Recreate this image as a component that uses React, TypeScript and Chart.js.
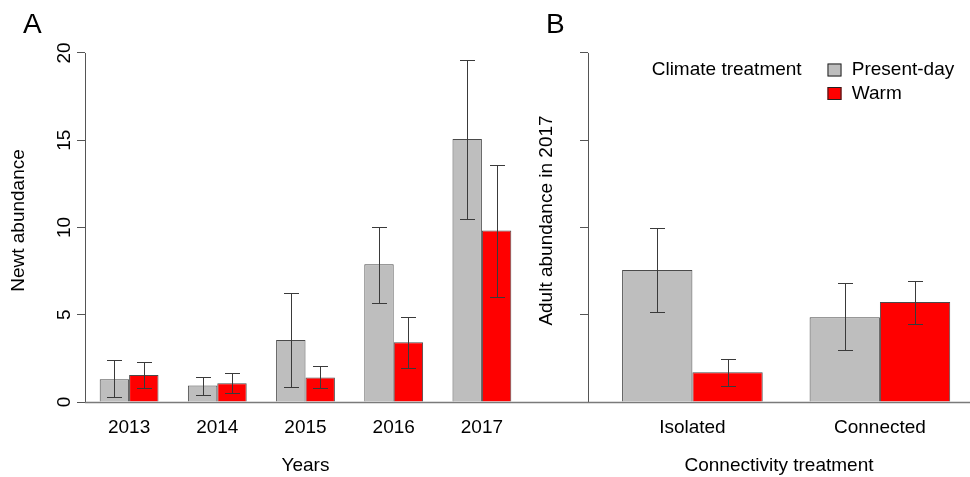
import React, { useEffect, useRef } from 'react';
import { Chart, registerables } from 'chart.js';

Chart.register(...registerables);

// ---------- data ----------
const years = ['2013', '2014', '2015', '2016', '2017'];
const presentDayA = [1.3, 0.94, 3.55, 7.9, 15.07];
const presentDayALow = [0.27, 0.4, 0.88, 5.69, 10.5];
const presentDayAHigh = [2.4, 1.45, 6.26, 10.05, 19.6];
const warmA = [1.55, 1.07, 1.4, 3.42, 9.82];
const warmALow = [0.78, 0.5, 0.78, 1.97, 6.03];
const warmAHigh = [2.31, 1.64, 2.06, 4.85, 13.58];

const connectivity = ['Isolated', 'Connected'];
const presentDayB = [7.56, 4.85];
const presentDayBLow = [5.17, 2.98];
const presentDayBHigh = [9.99, 6.8];
const warmB = [1.7, 5.73];
const warmBLow = [0.94, 4.47];
const warmBHigh = [2.46, 6.95];

const yTicks = [0, 5, 10, 15, 20];
const seriesNames = ['Present-day', 'Warm'];
const legendTitle = 'Climate treatment';

// ---------- styles ----------
const FONT = "'Liberation Sans', Arial, sans-serif";
const GREY = '#BEBEBE';
const RED = '#FF0000';
const EDGE = '#4a4a4a';
const AXIS = '#555555';
const ERR = '#3a3a3a';
const Y_MAX = 20.8;
const B_X_MIN = 0.4432;
const B_X_MAX = 2.4805;

Chart.defaults.font.family = FONT;
Chart.defaults.font.size = 19;
Chart.defaults.color = '#000';

const errorBarPlugin = {
  id: 'errorBars',
  afterDatasetsDraw(chart: any, _args: any, opts: any) {
    const { ctx } = chart;
    const yScale = chart.scales.y;
    ctx.save();
    ctx.strokeStyle = opts.color;
    ctx.lineWidth = 1;
    chart.data.datasets.forEach((ds: any, d: number) => {
      const meta = chart.getDatasetMeta(d);
      meta.data.forEach((el: any, i: number) => {
        const x = Math.round(el.x) + 0.5;
        const yl = Math.round(yScale.getPixelForValue(ds.errLow[i])) + 0.5;
        const yh = Math.round(yScale.getPixelForValue(ds.errHigh[i])) + 0.5;
        ctx.beginPath();
        ctx.moveTo(x, yl);
        ctx.lineTo(x, yh);
        ctx.moveTo(x - opts.cap, yl);
        ctx.lineTo(x + opts.cap, yl);
        ctx.moveTo(x - opts.cap, yh);
        ctx.lineTo(x + opts.cap, yh);
        ctx.stroke();
      });
    });
    ctx.restore();
  },
};

const axisLinePlugin = {
  id: 'axisLines',
  afterDatasetsDraw(chart: any, _args: any, opts: any) {
    const { ctx, chartArea } = chart;
    const y = chart.scales.y;
    const ticks = y.ticks;
    const x0 = Math.round(chartArea.left) + 0.5;
    ctx.save();
    ctx.strokeStyle = opts.axisColor;
    ctx.lineWidth = 1;
    ctx.beginPath();
    ctx.moveTo(x0, y.getPixelForValue(ticks[0].value));
    ctx.lineTo(x0, y.getPixelForValue(ticks[ticks.length - 1].value));
    ctx.stroke();
    const yb = Math.round(y.getPixelForValue(0)) + 0.5;
    ctx.strokeStyle = opts.baseColor;
    ctx.lineWidth = 1.5;
    ctx.beginPath();
    ctx.moveTo(opts.fromAxis ? chartArea.left : 0, yb);
    ctx.lineTo(chart.width, yb);
    ctx.stroke();
    ctx.restore();
  },
};

const panelLabelPlugin = {
  id: 'panelLabel',
  afterDraw(chart: any, _args: any, opts: any) {
    const { ctx } = chart;
    ctx.save();
    ctx.font = `28px ${FONT}`;
    ctx.fillStyle = '#000';
    ctx.textBaseline = 'alphabetic';
    ctx.textAlign = 'left';
    ctx.fillText(opts.text, opts.x, opts.y);
    ctx.restore();
  },
};

const climateLegendPlugin = {
  id: 'climateLegend',
  afterDraw(chart: any, _args: any, opts: any) {
    const { ctx } = chart;
    ctx.save();
    ctx.font = `19px ${FONT}`;
    ctx.textBaseline = 'middle';
    ctx.textAlign = 'left';
    ctx.fillStyle = '#000';
    ctx.fillText(opts.title, opts.titleX, opts.y);
    chart.data.datasets.forEach((ds: any, i: number) => {
      const yc = opts.y + i * opts.rowHeight;
      ctx.fillStyle = ds.backgroundColor;
      ctx.fillRect(opts.boxX, yc - 6.5, 14, 13);
      ctx.strokeStyle = '#222';
      ctx.lineWidth = 1;
      ctx.strokeRect(opts.boxX + 0.5, yc - 6, 13, 12);
      ctx.fillStyle = '#000';
      ctx.fillText(ds.label, opts.textX, yc);
    });
    ctx.restore();
  },
};

const yTickBuilder = (axis: any) => {
  axis.ticks = yTicks.map((v) => ({ value: v }));
};

function makeConfigA(): any {
  return {
    type: 'bar',
    data: {
      labels: years,
      datasets: [
        {
          label: seriesNames[0],
          data: presentDayA,
          errLow: presentDayALow,
          errHigh: presentDayAHigh,
          backgroundColor: GREY,
          borderColor: EDGE,
          borderWidth: 1,
        },
        {
          label: seriesNames[1],
          data: warmA,
          errLow: warmALow,
          errHigh: warmAHigh,
          backgroundColor: RED,
          borderColor: EDGE,
          borderWidth: 1,
        },
      ],
    },
    options: {
      animation: false,
      responsive: false,
      maintainAspectRatio: false,
      layout: { padding: { top: 39, right: 4, bottom: 0, left: 0 } },
      datasets: { bar: { categoryPercentage: 2 / 3, barPercentage: 1 } },
      plugins: {
        legend: { display: false },
        tooltip: { enabled: false },
        errorBars: { cap: 7.5, color: ERR },
        axisLines: { axisColor: AXIS, baseColor: '#7a7a7a', fromAxis: true },
        panelLabel: { text: 'A', x: 23, y: 33 },
      },
      scales: {
        x: {
          offset: true,
          grid: { display: false, drawTicks: false },
          border: { display: false },
          ticks: { padding: 14, autoSkip: false, maxRotation: 0, font: { size: 19 } },
          title: { display: true, text: 'Years', padding: 0, font: { size: 19 } },
          afterFit: (s: any) => {
            s.height = 75;
          },
        },
        y: {
          min: 0,
          max: Y_MAX,
          afterBuildTicks: yTickBuilder,
          ticks: {
            minRotation: 90,
            maxRotation: 90,
            crossAlign: 'center',
            padding: 1.5,
            autoSkip: false,
            font: { size: 19 },
          },
          grid: { display: true, drawOnChartArea: false, drawTicks: true, tickLength: 8, color: AXIS },
          border: { display: false },
          title: { display: true, text: 'Newt abundance', padding: { top: 7, bottom: 0 }, font: { size: 19 } },
          afterFit: (s: any) => {
            s.width = 85;
          },
        },
      },
    },
    plugins: [errorBarPlugin, axisLinePlugin, panelLabelPlugin],
  };
}

function makeConfigB(): any {
  return {
    type: 'bar',
    data: {
      datasets: [
        {
          label: seriesNames[0],
          data: presentDayB.map((v, i) => ({ x: i + 1, y: v })),
          errLow: presentDayBLow,
          errHigh: presentDayBHigh,
          backgroundColor: GREY,
          borderColor: EDGE,
          borderWidth: 1,
        },
        {
          label: seriesNames[1],
          data: warmB.map((v, i) => ({ x: i + 1, y: v })),
          errLow: warmBLow,
          errHigh: warmBHigh,
          backgroundColor: RED,
          borderColor: EDGE,
          borderWidth: 1,
        },
      ],
    },
    options: {
      animation: false,
      responsive: false,
      maintainAspectRatio: false,
      layout: { padding: { top: 39, right: 0, bottom: 0, left: 0 } },
      datasets: { bar: { categoryPercentage: 0.75, barPercentage: 1 } },
      plugins: {
        legend: { display: false },
        tooltip: { enabled: false },
        errorBars: { cap: 7.5, color: ERR },
        axisLines: { axisColor: AXIS, baseColor: '#7a7a7a', fromAxis: false },
        panelLabel: { text: 'B', x: 16, y: 33 },
        climateLegend: {
          title: legendTitle,
          titleX: 121.7,
          y: 70,
          rowHeight: 23.5,
          boxX: 297.5,
          textX: 321.8,
        },
      },
      scales: {
        x: {
          type: 'linear',
          min: B_X_MIN,
          max: B_X_MAX,
          offset: false,
          afterBuildTicks: (axis: any) => {
            axis.ticks = connectivity.map((_, i) => ({ value: i + 1 }));
          },
          grid: { display: false, drawTicks: false },
          border: { display: false },
          ticks: {
            padding: 14,
            autoSkip: false,
            maxRotation: 0,
            font: { size: 19 },
            callback: (v: any) => connectivity[Math.round(Number(v)) - 1],
          },
          title: { display: true, text: 'Connectivity treatment', padding: 0, font: { size: 19 } },
          afterFit: (s: any) => {
            s.height = 75;
          },
        },
        y: {
          min: 0,
          max: Y_MAX,
          afterBuildTicks: yTickBuilder,
          ticks: { display: false },
          grid: { display: true, drawOnChartArea: false, drawTicks: true, tickLength: 8, color: AXIS },
          border: { display: false },
          title: {
            display: true,
            text: 'Adult abundance in 2017',
            padding: { top: 5.6, bottom: 0 },
            font: { size: 19 },
          },
          afterFit: (s: any) => {
            s.width = 58;
          },
        },
      },
    },
    plugins: [errorBarPlugin, axisLinePlugin, panelLabelPlugin, climateLegendPlugin],
  };
}

export default function App() {
  const refA = useRef<HTMLCanvasElement>(null);
  const refB = useRef<HTMLCanvasElement>(null);

  useEffect(() => {
    const a = new Chart(refA.current as HTMLCanvasElement, makeConfigA());
    const b = new Chart(refB.current as HTMLCanvasElement, makeConfigB());
    return () => {
      a.destroy();
      b.destroy();
    };
  }, []);

  return (
    <div
      style={{
        position: 'absolute',
        left: 0,
        top: 0,
        width: 970,
        height: 477,
        background: '#fff',
        overflow: 'hidden',
      }}
    >
      <canvas
        ref={refA}
        width={530}
        height={477}
        style={{ position: 'absolute', left: 0, top: 0, width: 530, height: 477 }}
      />
      <canvas
        ref={refB}
        width={440}
        height={477}
        style={{ position: 'absolute', left: 530, top: 0, width: 440, height: 477 }}
      />
    </div>
  );
}
